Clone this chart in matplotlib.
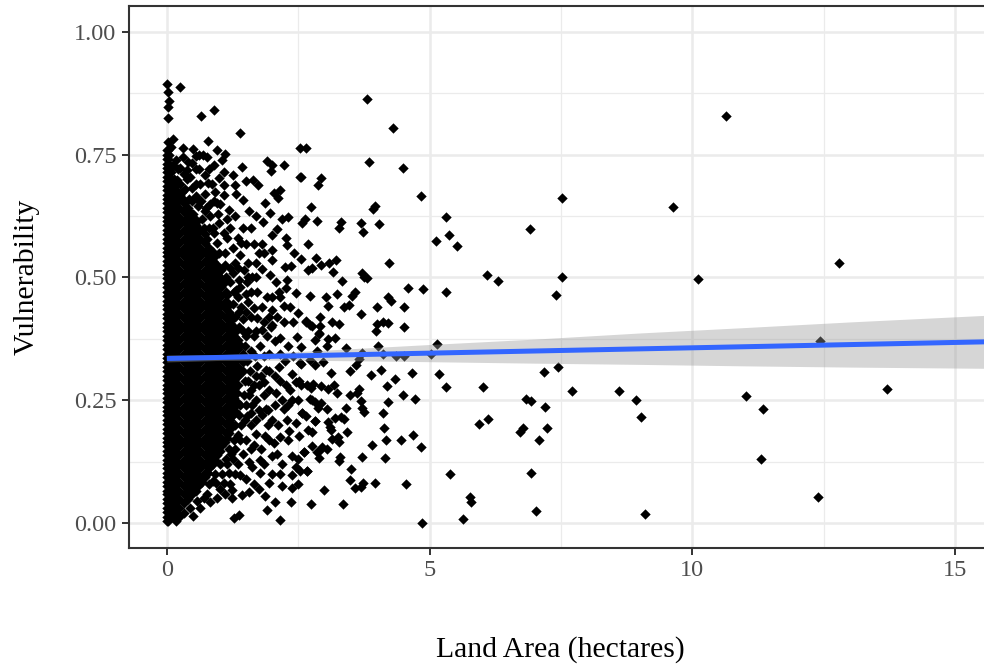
import matplotlib
matplotlib.use('Agg')
import matplotlib.pyplot as plt

plt.rcParams['font.family'] = ['Liberation Serif', 'DejaVu Serif']

# single points (land area, vulnerability)
sparse_points = [
    (10.64,.829),(3.81,.864),(4.30,.804),(7.52,.662),(9.63,.643),(6.91,.599),(7.41,.464),(7.52,.501),
    (10.11,.497),(12.79,.530),(13.71,.273),(12.43,.371),(11.02,.259),(11.35,.232),(11.31,.130),(12.39,.053),
    (9.10,.018),(9.02,.216),(8.93,.250),(8.60,.269),(7.71,.269),(7.44,.318),(7.18,.307),(7.20,.236),
    (6.83,.253),(6.93,.248),(7.23,.193),(7.08,.169),(6.78,.193),(6.72,.185),(6.93,.102),(7.02,.024),
    (3.85,.735),(4.50,.724),(4.83,.667),(2.56,.705),(2.93,.702),(2.88,.688),(2.74,.643),(3.96,.646),
    (3.93,.640),(2.63,.619),(2.58,.612),(2.86,.616),(3.31,.614),(3.28,.600),(3.69,.610),(3.74,.593),
    (4.04,.608),(5.31,.624),(5.37,.587),(5.12,.574),(5.53,.565),(2.68,.569),(2.56,.538),(2.84,.539),
    (3.22,.536),(2.93,.525),(3.08,.529),(2.77,.520),(2.69,.515),(3.16,.511),(4.23,.530),(3.71,.509),
    (3.76,.500),(3.81,.498),(3.34,.493),(6.09,.506),(6.31,.493),(4.59,.479),(4.88,.477),(5.31,.471),
    (2.73,.463),(3.02,.461),(3.24,.467),(3.58,.471),(3.52,.463),(4.21,.461),(4.26,.452),(3.06,.442),
    (3.38,.440),(3.47,.444),(3.99,.439),(4.52,.439),(3.69,.425),(2.91,.420),(2.65,.411),(2.72,.403),
    (2.91,.402),(3.15,.409),(3.28,.405),(4.00,.405),(4.11,.410),(4.20,.407),(4.52,.400),(3.98,.391),
    (2.89,.385),(3.20,.376),(3.07,.375),(2.82,.372),(3.04,.361),(2.56,.359),(2.85,.351),(3.41,.356),
    (4.01,.361),(5.15,.365),(3.71,.347),(4.12,.345),(4.37,.340),(4.52,.340),(5.02,.344),(3.66,.333),
    (3.60,.322),(2.56,.323),(2.72,.331),(2.82,.322),(2.98,.327),(3.13,.306),(3.48,.310),(3.88,.302),
    (4.08,.312),(4.66,.305),(5.18,.303),(4.34,.293),(4.19,.278),(5.31,.276),(6.02,.276),(2.56,.282),
    (2.66,.281),(2.79,.284),(2.75,.274),(2.94,.279),(3.07,.272),(3.18,.280),(3.23,.264),(3.48,.261),
    (3.66,.273),(3.61,.264),(4.50,.260),(4.73,.252),(3.69,.248),(4.21,.246),(2.72,.253),(2.82,.247),
    (2.94,.245),(2.88,.235),(3.05,.233),(3.40,.234),(3.71,.235),(3.75,.226),(4.11,.223),(2.58,.225),
    (2.65,.218),(2.82,.208),(3.07,.206),(3.20,.213),(3.31,.215),(3.38,.211),(3.10,.196),(3.13,.189),
    (5.94,.202),(6.11,.211),(4.14,.194),(2.69,.189),(2.77,.185),(3.43,.185),(3.25,.176),(3.15,.171),
    (3.27,.164),(4.68,.179),(4.18,.169),(4.45,.168),(3.91,.159),(4.83,.155),(2.77,.157),(2.96,.154),
    (3.05,.150),(2.85,.144),(2.61,.144),(2.89,.132),(3.29,.135),(3.27,.127),(3.71,.135),(4.16,.132),
    (3.50,.109),(2.66,.105),(2.53,.105),(5.39,.100),(3.48,.088),(3.96,.081),(4.55,.079),(3.73,.082),
    (3.69,.074),(3.58,.071),(3.00,.068),(2.75,.039),(3.36,.039),(5.77,.052),(5.78,.043),(4.85,.000),
    (5.63,.008),
    (.01,.895),(.25,.887),(.02,.878),(.04,.860),(.02,.848),(.02,.825),(.65,.829),(.90,.842),(1.39,.795),
    (.11,.782),(.02,.775),(.79,.778),(.31,.764),(.08,.765),(.49,.761),(.95,.759),(2.54,.764),(2.65,.763),
    (1.10,.752),(.55,.747),(.76,.745),(1.05,.739),(1.91,.737),(2.00,.730),(2.23,.730),(1.43,.725),
    (1.99,.717),(.47,.733),(.26,.724),(.55,.720),(.39,.719),(.45,.705),(.32,.711),(.89,.729),(.80,.720),
    (.72,.709),(1.09,.715),(.99,.702),(1.09,.688),(1.26,.708),(2.54,.705),(1.50,.697),(1.64,.699),
    (1.74,.688),(1.29,.688),(.20,.699),(.08,.692),(.48,.682),(.64,.690),(.79,.692),(2.16,.678),(2.04,.673),
    (2.11,.661),(1.31,.670),(.91,.674),(1.09,.668),(1.45,.658),(1.87,.652),(.55,.666),(.29,.675),(1.97,.632),
    (1.56,.635),(1.69,.625),(1.18,.637),(.96,.651),(.74,.641),(2.20,.620),(2.30,.623),(1.83,.613),(2.10,.599),
    (2.00,.587),(2.27,.580),(2.29,.567),(2.42,.549),(2.25,.522),(2.37,.524),(2.00,.536),(1.81,.517),
    (1.66,.569),(1.81,.569),(1.50,.569),(1.75,.549),(1.85,.549),(2.00,.556),(2.29,.495),(1.97,.505),
    (2.07,.491),(1.69,.502),(1.47,.515),(1.37,.495),(2.45,.468),(2.26,.478),(2.13,.471),(2.00,.461),
    (1.72,.471),(1.50,.466),(1.31,.475),
    (2.50,.428),(2.64,.410),(2.77,.402),(2.89,.386),(2.48,.379),(2.23,.441),(2.00,.434),(2.10,.420),
    (2.23,.410),(2.00,.403),(1.66,.437),(1.72,.417),(1.81,.393),(2.16,.376),(2.54,.325),(2.39,.303),
    (1.88,.312),(1.85,.288),(2.13,.318),(2.26,.281),(2.45,.288),(2.77,.251),(2.58,.223),(2.81,.208),
    (2.39,.251),(2.20,.251),(2.07,.264),(2.23,.233),(1.88,.233),(2.29,.210),(2.45,.203),(2.00,.210),
    (1.81,.220),(1.53,.217),(1.24,.230),(2.51,.177),(2.32,.187),(2.16,.176),(1.87,.177),(1.69,.181),
    (1.66,.159),(2.04,.162),(2.61,.144),(2.92,.149),(2.00,.136),(2.39,.136),(2.45,.115),(2.67,.105),
    (2.39,.098),(1.56,.125),(1.78,.128),(1.78,.101),(1.62,.115),(1.94,.081),(2.39,.071),(1.66,.079),
    (1.24,.067),(1.40,.098),(1.43,.057),(1.57,.064),(1.87,.055),(1.24,.050),(2.05,.043),(2.37,.043),
    (1.91,.026),(2.15,.007),(1.38,.016),(1.28,.011),(.83,.043),(.64,.030),(.50,.014),(.26,.014),
    (.76,.060),(.94,.081),(1.09,.081),(1.18,.101),(.02,.003),
]

# points around the edge of the black block, rough estimates
crowded_points = [
    (.16,.66),(.10,.68),(.22,.655),(.35,.64),(.42,.66),(.50,.63),(.60,.645),(.66,.62),(.82,.625),(.88,.60),
    (1.00,.61),(1.08,.59),(.70,.60),(1.20,.60),(1.30,.625),(1.35,.58),(1.25,.56),(1.10,.55),(.95,.57),(1.40,.545),
    (1.30,.53),(1.55,.53),(1.60,.60),(1.45,.60),(1.20,.52),(.06,.72),(.14,.70),(.18,.74),(.25,.69),(.35,.68),
    (.40,.735),(.62,.72),(.68,.75),(.85,.69),(.72,.67),(.65,.655),
    (1.20,.49),(1.35,.46),(1.15,.465),(1.25,.445),(1.42,.44),(1.55,.45),(1.60,.42),(1.45,.415),(1.82,.44),(1.90,.46),
    (1.95,.42),(1.70,.39),(1.55,.39),(1.90,.38),(2.05,.37),(1.78,.36),(1.60,.35),(1.95,.345),(2.15,.345),(2.30,.36),
    (2.40,.41),(2.35,.44),(2.15,.46),(2.40,.34),(2.25,.33),(2.05,.30),(1.72,.32),(1.58,.31),(1.75,.28),(1.60,.27),
    (1.48,.29),(1.95,.27),(2.15,.29),(2.35,.27),(2.52,.29),(1.70,.25),(1.50,.24),(1.92,.23),(2.05,.24),(2.30,.24),
    (2.50,.25),(1.42,.20),(1.60,.20),(1.70,.21),(1.92,.20),(2.12,.20),(2.30,.17),(1.35,.18),(1.50,.17),(1.60,.15),
    (1.80,.15),(1.95,.17),(1.30,.15),(1.45,.14),(1.25,.13),(1.85,.12),(2.10,.14),(2.20,.12),(2.15,.10),(2.00,.10),
    (2.50,.13),(1.15,.12),(1.05,.10),(1.30,.10),(1.50,.09),(1.10,.06),(.95,.05),(1.20,.08),(2.20,.075),(2.50,.08),
    (1.75,.07),
    (1.48,.36),(1.52,.33),(1.50,.38),(1.45,.31),(1.55,.29),(1.46,.26),(1.56,.26),(1.40,.24),(1.62,.24),(1.38,.22),
    (1.48,.21),(1.30,.20),(1.40,.17),(1.28,.17),(1.18,.15),(1.22,.14),(1.12,.13),(1.35,.12),(1.02,.12),(.92,.10),
    (.88,.085),(1.02,.07),(.80,.08),(.70,.05),(.58,.045),(.44,.03),(.32,.02),(.18,.005),
    (1.65,.38),(1.68,.34),(1.85,.34),(1.70,.30),(1.80,.30),(1.95,.31),(1.66,.28),(1.85,.26),(1.76,.23),(1.60,.225),
    (1.98,.40),(1.85,.41),(1.38,.40),(1.44,.39),(1.50,.43),(1.30,.42),(1.38,.43),(1.28,.47),(1.40,.48),(1.18,.43),
    (1.52,.49),(1.60,.47),(1.62,.50),(1.12,.50),(1.26,.51),(1.35,.52),(1.10,.525),(1.15,.58),(1.00,.55),(.90,.59),
    (.98,.63),(.80,.60),(.72,.635),(.58,.66),(.48,.655),(.30,.66),(.42,.62),(.55,.69),(.38,.70),(.12,.73),
    (.22,.72),(.30,.745),(.62,.75),(.90,.655),(.82,.65),(1.02,.65),(1.14,.62),(1.42,.57),(1.55,.50),(1.70,.53),
]

# the solid black block cannot be read point by point: estimated row by row
# each entry is one vulnerability value and the land areas drawn at it
dense_rows = [
    (.004, [0]),
    (.013, [0, .08]),
    (.022, [0, .16]),
    (.031, [0, .08, .24]),
    (.040, [0, .16, .32]),
    (.049, [0, .08, .24, .40]),
    (.058, [0, .16, .32, .48]),
    (.066, [0, .08, .24, .40, .56]),
    (.075, [0, .16, .32, .48, .60]),
    (.084, [0, .08, .24, .40, .56, .66]),
    (.093, [0, .16, .32, .48, .64, .72]),
    (.102, [0, .08, .24, .40, .56, .72, .78]),
    (.111, [0, .16, .32, .48, .64, .80]),
    (.120, [0, .08, .24, .40, .56, .72, .87]),
    (.129, [0, .16, .32, .48, .64, .80, .92]),
    (.138, [0, .08, .24, .40, .56, .72, .88, .96]),
    (.147, [0, .16, .32, .48, .64, .80, .96, 1.02]),
    (.156, [0, .08, .24, .40, .56, .72, .88, 1.04]),
    (.165, [0, .16, .32, .48, .64, .80, .96, 1.10]),
    (.174, [0, .08, .24, .40, .56, .72, .88, 1.04, 1.14]),
    (.183, [0, .16, .32, .48, .64, .80, .96, 1.12, 1.18]),
    (.192, [0, .08, .24, .40, .56, .72, .88, 1.04, 1.20]),
    (.201, [0, .16, .32, .48, .64, .80, .96, 1.12, 1.22]),
    (.210, [0, .08, .24, .40, .56, .72, .88, 1.04, 1.20]),
    (.219, [0, .16, .32, .48, .64, .80, .96, 1.12, 1.26]),
    (.228, [0, .08, .24, .40, .56, .72, .88, 1.04, 1.20, 1.29]),
    (.237, [0, .16, .32, .48, .64, .80, .96, 1.12, 1.28]),
    (.246, [0, .08, .24, .40, .56, .72, .88, 1.04, 1.20, 1.33]),
    (.255, [0, .16, .32, .48, .64, .80, .96, 1.12, 1.28]),
    (.264, [0, .08, .24, .40, .56, .72, .88, 1.04, 1.20, 1.34]),
    (.273, [0, .16, .32, .48, .64, .80, .96, 1.12, 1.28]),
    (.282, [0, .08, .24, .40, .56, .72, .88, 1.04, 1.20, 1.36]),
    (.291, [0, .16, .32, .48, .64, .80, .96, 1.12, 1.28]),
    (.300, [0, .08, .24, .40, .56, .72, .88, 1.04, 1.20, 1.36]),
    (.309, [0, .16, .32, .48, .64, .80, .96, 1.12, 1.28, 1.42]),
    (.318, [0, .08, .24, .40, .56, .72, .88, 1.04, 1.20, 1.36]),
    (.327, [0, .16, .32, .48, .64, .80, .96, 1.12, 1.28, 1.44]),
    (.336, [0, .08, .24, .40, .56, .72, .88, 1.04, 1.20, 1.36]),
    (.345, [0, .16, .32, .48, .64, .80, .96, 1.12, 1.28, 1.44]),
    (.354, [0, .08, .24, .40, .56, .72, .88, 1.04, 1.20, 1.36]),
    (.363, [0, .16, .32, .48, .64, .80, .96, 1.12, 1.28, 1.40]),
    (.372, [0, .08, .24, .40, .56, .72, .88, 1.04, 1.20, 1.36]),
    (.381, [0, .16, .32, .48, .64, .80, .96, 1.12, 1.28]),
    (.390, [0, .08, .24, .40, .56, .72, .88, 1.04, 1.20, 1.32]),
    (.399, [0, .16, .32, .48, .64, .80, .96, 1.12, 1.28]),
    (.408, [0, .08, .24, .40, .56, .72, .88, 1.04, 1.20]),
    (.417, [0, .16, .32, .48, .64, .80, .96, 1.12, 1.25]),
    (.426, [0, .08, .24, .40, .56, .72, .88, 1.04, 1.20]),
    (.435, [0, .16, .32, .48, .64, .80, .96, 1.12]),
    (.444, [0, .08, .24, .40, .56, .72, .88, 1.04, 1.18]),
    (.453, [0, .16, .32, .48, .64, .80, .96, 1.12]),
    (.462, [0, .08, .24, .40, .56, .72, .88, 1.04]),
    (.471, [0, .16, .32, .48, .64, .80, .96, 1.12]),
    (.480, [0, .08, .24, .40, .56, .72, .88, 1.04]),
    (.489, [0, .16, .32, .48, .64, .80, .96, 1.08]),
    (.498, [0, .08, .24, .40, .56, .72, .88, 1.04]),
    (.507, [0, .16, .32, .48, .64, .80, .96]),
    (.516, [0, .08, .24, .40, .56, .72, .88, 1.04]),
    (.525, [0, .16, .32, .48, .64, .80, .96]),
    (.534, [0, .08, .24, .40, .56, .72, .88]),
    (.543, [0, .16, .32, .48, .64, .80, .92]),
    (.552, [0, .08, .24, .40, .56, .72, .88]),
    (.561, [0, .16, .32, .48, .64, .80]),
    (.570, [0, .08, .24, .40, .56, .72]),
    (.579, [0, .16, .32, .48, .64, .76]),
    (.588, [0, .08, .24, .40, .56, .72]),
    (.597, [0, .16, .32, .48, .64]),
    (.606, [0, .08, .24, .40, .56]),
    (.615, [0, .16, .32, .48, .58]),
    (.624, [0, .08, .24, .40, .50]),
    (.633, [0, .16, .32, .44]),
    (.642, [0, .08, .24, .40]),
    (.651, [0, .16, .32]),
    (.660, [0, .08, .24]),
    (.669, [0, .16, .26]),
    (.678, [0, .08, .18]),
    (.687, [0, .16]),
    (.696, [0, .08]),
    (.705, [0, .04]),
    (.714, [0, .08]),
    (.723, [0, .03]),
    (.732, [0, .05]),
    (.741, [0, .02]),
    (.750, [0, .04]),
    (.759, [0, .02]),
]

# fitted line and its confidence band
fit_x = [0, 15.6]
fit_y = [.335, .369]
band_x = [0, 1, 2, 3, 5, 7, 9, 11, 13, 15.6]
band_upper = [.342, .343, .3465, .352, .3635, .3745, .387, .398, .4095, .423]
band_lower = [.328, .331, .3315, .331, .3285, .3255, .323, .320, .3175, .315]

x_ticks = [0, 5, 10, 15]
y_ticks = [0, .25, .5, .75, 1]
y_labels = ['0.00', '0.25', '0.50', '0.75', '1.00']
x_minor = [2.5, 7.5, 12.5]
y_minor = [.125, .375, .625, .875]

land_area = [p[0] for p in sparse_points + crowded_points]
vulnerability = [p[1] for p in sparse_points + crowded_points]
for y, xs in dense_rows:
    for x in xs:
        land_area.append(x)
        vulnerability.append(y)

fig = plt.figure(figsize=(9.84, 6.68), dpi=100)
ax = fig.add_axes([129/984, (668-548)/668, 1-129/984, (548-6)/668])

ax.scatter(land_area, vulnerability, marker='D', s=28, color='black', linewidths=0, zorder=3)
ax.fill_between(band_x, band_lower, band_upper, color='#999999', alpha=.4, linewidth=0, zorder=4)
ax.plot(fit_x, fit_y, color='#3366FF', lw=3.6, solid_capstyle='butt', zorder=5)

ax.set_xlim(-.72, 15.55)
ax.set_ylim(-.051, 1.053)
ax.set_xticks(x_ticks)
ax.set_xticklabels([str(v) for v in x_ticks])
ax.set_yticks(y_ticks)
ax.set_yticklabels(y_labels)
ax.set_xticks(x_minor, minor=True)
ax.set_yticks(y_minor, minor=True)
ax.grid(which='major', color='#EBEBEB', lw=1.8, zorder=1)
ax.grid(which='minor', color='#EBEBEB', lw=.9, zorder=1)
ax.set_axisbelow(True)
ax.tick_params(which='minor', length=0)
ax.tick_params(which='major', length=5, width=1.4, color='#333333', labelcolor='#4D4D4D', labelsize=17.5, pad=4)

ax.spines['right'].set_visible(False)
for s in ['left', 'top', 'bottom']:
    ax.spines[s].set_linewidth(1.5)
    ax.spines[s].set_color('#333333')

fig.text(560/984, 1-649.5/668, 'Land Area (hectares)', ha='center', va='center', fontsize=21.3, color='black')
fig.text(27/984, 1-277/668, 'Vulnerability', ha='center', va='center', rotation=90, fontsize=21.3, color='black')

fig.savefig('out.png', dpi=100)
